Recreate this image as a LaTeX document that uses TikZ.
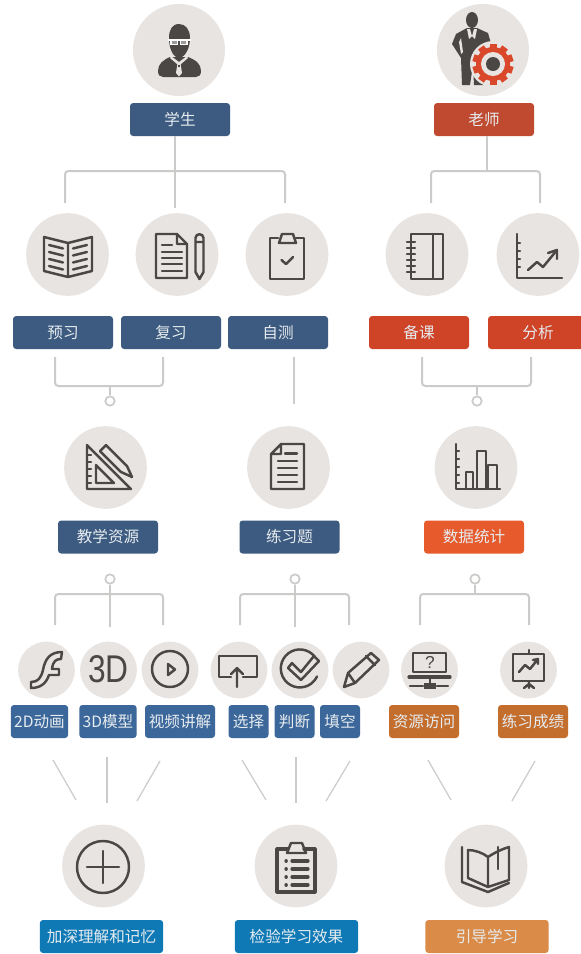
\documentclass[tikz,border=0pt]{standalone}
\usepackage{fontspec}
\setmainfont{Noto Sans CJK SC}
\newfontfamily\latinicon{Liberation Sans}
\usetikzlibrary{calc}
\definecolor{discgray}{HTML}{E8E4E2}
\definecolor{icondark}{HTML}{4B4745}
\definecolor{linegray}{HTML}{CBCBC9}
\definecolor{navy}{HTML}{3D5B80}
\definecolor{brick}{HTML}{BF4A30}
\definecolor{redbox}{HTML}{CF4327}
\definecolor{flame}{HTML}{E65A2C}
\definecolor{midblue}{HTML}{3C679A}
\definecolor{rust}{HTML}{C46E2E}
\definecolor{seablue}{HTML}{0F79B6}
\definecolor{sand}{HTML}{DA8B48}
\definecolor{gearred}{HTML}{D9482B}
\definecolor{boxtext}{HTML}{E6ECF0}
\tikzset{
  disc/.style={circle,fill=discgray,minimum size=#1,inner sep=0pt},
  bx/.style={rectangle,rounded corners=2.4pt,fill=#1,text=boxtext,minimum height=24.75pt,inner sep=0pt,font=\fontsize{11.7}{13}\selectfont},
  conn/.style={draw=linegray,line width=1.5pt,rounded corners=2.5pt},
  thin conn/.style={draw=linegray,line width=0.9pt},
  ring/.style={draw=linegray,line width=1.3pt,fill=white,circle,minimum size=7pt,inner sep=0pt},
  ic/.style={draw=icondark,line width=2.4pt,line join=round,line cap=round},
  ict/.style={draw=icondark,line width=1.85pt,line join=round,line cap=round},
}
\begin{document}
\begin{tikzpicture}[x=0.75pt,y=-0.75pt]
\useasboundingbox (0,0) rectangle (581,954);
\clip (0,0) rectangle (581,954);
\fill[white] (0,0) rectangle (581,954);

% ---- discs
\node[disc=69pt] (dStu) at (179,50) {};
\node[disc=69pt] (dTea) at (483,50) {};
\foreach \n/\x in {dA/67.5,dB/177,dC/287,dD/427,dE/538}{\node[disc=62pt] (\n) at (\x,254.5) {};}
\foreach \n/\x in {dF/105.5,dG/288.5,dH/476}{\node[disc=62pt] (\n) at (\x,467.5) {};}
\foreach \n/\x in {dI/46.5,dJ/108.5,dK/170,dL/239,dM/300,dN/361,dO/429.5,dP/528.5}{\node[disc=42.5pt] (\n) at (\x,670) {};}
\foreach \n/\x in {dQ/103.5,dR/296,dS/486}{\node[disc=62pt] (\n) at (\x,866) {};}

% ---- boxes
\node[bx=navy,minimum width=75pt] (stu) at (180,119.5) {学生};
\node[bx=brick,minimum width=75pt] (tea) at (484,119.5) {老师};
\node[bx=navy,minimum width=75pt] (yuxi) at (63,332.5) {预习};
\node[bx=navy,minimum width=75pt] (fuxi) at (171,332.5) {复习};
\node[bx=navy,minimum width=75pt] (zice) at (278,332.5) {自测};
\node[bx=redbox,minimum width=75pt] (beike) at (419,332.5) {备课};
\node[bx=redbox,minimum width=75pt] (fenxi) at (538,332.5) {分析};
\node[bx=navy,minimum width=75pt] (res) at (108,537) {教学资源};
\node[bx=navy,minimum width=75pt] (lxt) at (289.5,537) {练习题};
\node[bx=flame,minimum width=75pt] (stat) at (474,537) {数据统计};
\node[bx=midblue,minimum width=43pt] (b2d) at (39.5,721.5) {2D动画};
\node[bx=midblue,minimum width=43pt] (b3d) at (108,721.5) {3D模型};
\node[bx=midblue,minimum width=52.5pt] (bvid) at (180,721.5) {视频讲解};
\node[bx=midblue,minimum width=30pt] (bsel) at (248.5,721.5) {选择};
\node[bx=midblue,minimum width=30pt] (bjud) at (294.5,721.5) {判断};
\node[bx=midblue,minimum width=30pt] (bfil) at (340,721.5) {填空};
\node[bx=rust,minimum width=52.5pt] (bacc) at (424,721.5) {资源访问};
\node[bx=rust,minimum width=52.5pt] (bsco) at (533,721.5) {练习成绩};
\node[bx=seablue,minimum width=92.5pt] (bdeep) at (101.5,936.5) {加深理解和记忆};
\node[bx=seablue,minimum width=92.5pt] (bchk) at (296.5,936.5) {检验学习效果};
\node[bx=sand,minimum width=92.5pt] (bgui) at (487,936.5) {引导学习};

% ---- connectors
\coordinate (s1) at (65,203); \coordinate (s2) at (175,208); \coordinate (s3) at (285,203);
\coordinate (sj) at (175,171);
\draw[conn] (stu.south -| sj) -- (s2);
\draw[conn] (s1) -- (s1 |- sj) -- (s3 |- sj) -- (s3);
\coordinate (t1) at (431,203); \coordinate (t2) at (540,203); \coordinate (tj) at (486.5,171);
\draw[conn] (tea.south -| tj) -- (tj);
\draw[conn] (t1) -- (t1 |- tj) -- (t2 |- tj) -- (t2);

\node[ring] (r1) at (110,401) {};
\node[ring] (r2) at (477,401) {};
\node[ring] (r3) at (110,579) {};
\node[ring] (r4) at (295,579) {};
\node[ring] (r5) at (475,579) {};
\coordinate (a1) at (55,357); \coordinate (a2) at (163,357); \coordinate (aj) at (110,386);
\draw[conn] (a1) -- (a1 |- aj) -- (a2 |- aj) -- (a2);
\draw[conn] (r1) -- (aj);
\coordinate (c1) at (422,357); \coordinate (c2) at (531,357); \coordinate (cj) at (477,386);
\draw[conn] (c1) -- (c1 |- cj) -- (c2 |- cj) -- (c2);
\draw[conn] (r2) -- (cj);
\coordinate (z1) at (294,357); \coordinate (z2) at (294,404);
\draw[thin conn] (z1) -- (z2);

\coordinate (e1) at (55,625); \coordinate (e2) at (110,627); \coordinate (e3) at (163,625);
\draw[conn] (e1) -- (e1 |- 0,594) -- (e3 |- 0,594) -- (e3);
\draw[conn] (r3) -- (e2);
\coordinate (f1) at (240,625); \coordinate (f2) at (295,627); \coordinate (f3) at (349,625);
\draw[conn] (f1) -- (f1 |- 0,594) -- (f3 |- 0,594) -- (f3);
\draw[conn] (r4) -- (f2);
\coordinate (g1) at (420,625); \coordinate (g3) at (529,625); \coordinate (g2) at (475,594);
\draw[conn] (g1) -- (g1 |- g2) -- (g3 |- g2) -- (g3);
\draw[conn] (r5) -- (g2);

\foreach \a/\b/\c/\d in {53/760/76/800,107/757/107/803,160/761/137/801,242/760/266/800,296/757/296/803,350/761/326/801,428/760/451/800,535/761/512/801}{
  \draw[thin conn] (\a,\b) -- (\c,\d);}

% ---- student icon
\fill[icondark] (179,24) .. controls (186,24) and (190,30) .. (190,38) .. controls (190,47) and (186,57) .. (179,58) .. controls (172,57) and (169,47) .. (169,38) .. controls (169,30) and (172,24) .. (179,24) -- cycle;
\fill[icondark] (170,57) -- (188,57) .. controls (196,60) and (201,64) .. (201,71) .. controls (201,75) and (199,77) .. (196,77) -- (163,77) .. controls (160,77) and (158,75) .. (158,71) .. controls (158,64) and (163,60) .. (170,57) -- cycle;
\fill[discgray] (171,56) -- (179,62) -- (187,56) -- (188,58) -- (181,64) -- (177,64) -- (170,58) -- cycle;
\fill[discgray] (177.5,63) -- (180.5,63) -- (182,73) -- (179,76.5) -- (176,73) -- cycle;
\fill[icondark] (178,65) rectangle (180,67);
\draw[white,line width=0.9pt,fill=icondark!55] (171,40) rectangle (177.5,44.5);
\draw[white,line width=0.9pt,fill=icondark!55] (180.5,40) rectangle (187,44.5);
\draw[white,line width=0.9pt] (168,40) -- (191,40);

% ---- teacher icon
\fill[icondark] (472,20) ellipse [x radius=6,y radius=8];
\fill[icondark] (467,28) -- (477,28) -- (488,33) -- (492,47) -- (485,56) -- (484,85) -- (474,85) -- (473,65) -- (470,85) -- (462,85) -- (461,58) -- (452,44) -- (456,34) -- cycle;
\fill[discgray] (467,29) -- (470,29) -- (472,36) -- (469,39) -- cycle;
\fill[discgray] (474,29) -- (477,29) -- (475,39) -- (472,36) -- cycle;
\fill[discgray] (459,42) -- (461,38) -- (463,52) -- (461,54) -- cycle;
\fill[discgray] (493,64) circle [radius=23];
\foreach \a in {0,36,...,324}{\fill[gearred,rotate around={\a:(493,64)}] (489.5,43.5) rectangle (496.5,50);}
\fill[gearred] (493,64) circle [radius=17];
\fill[discgray] (493,64) circle [radius=12];
\fill[icondark] (493,64) circle [radius=7];

% ---- open book
\draw[ict] (68,243) -- (44,237) -- (44,271) -- (68,277) -- (92,271) -- (92,237) -- cycle (68,243) -- (68,277);
\foreach \d in {0,7,14,21}{\draw[ict] (49,245+\d) -- (63,248.5+\d) (87,245+\d) -- (73,248.5+\d);}
% ---- document + pen
\draw[ict] (156,234) -- (177,234) -- (187,244) -- (187,278) -- (156,278) -- cycle (177,234) -- (177,244) -- (187,244);
\draw[ict] (162,245) -- (172,245);
\foreach \y in {252,258,264,271}{\draw[ict] (162,\y) -- (182,\y);}
\draw[ict] (195.5,238) .. controls (195.5,233) and (203.5,233) .. (203.5,238) -- (203.5,272) -- (199.5,279) -- (195.5,272) -- cycle (195.5,242) -- (203.5,242);
% ---- clipboard
\draw[ict] (278,238) -- (270,238) -- (270,279) -- (304,279) -- (304,238) -- (296,238);
\draw[ict] (279,243) -- (282,234) -- (293,234) -- (296,243) -- cycle;
\draw[ict] (281.5,260) -- (286,264) -- (293,257);
% ---- notebook
\draw[ict] (411,234) rectangle (443,279) (433,234) -- (433,279);
\foreach \y in {242,248,254,260,266,272}{\draw[ict] (407,\y) -- (415,\y);}
% ---- growth chart
\draw[ict] (517,234) -- (517,278) -- (562,278);
\foreach \y in {243,251,259,267}{\draw[ict] (517,\y) -- (520,\y);}
\draw[ict] (528,270) -- (537,262) -- (543,267) -- (557,250);
\draw[ict] (548,253) -- (557,250) -- (557,259);

% ---- set square + pencil
\draw[ict] (87,445) -- (87,489) -- (131,489) -- cycle;
\draw[ict] (96,465) -- (96,483) -- (114,483) -- cycle;
\foreach \y in {455,462,469,476,483}{\draw[ict] (87,\y) -- (91,\y);}
\draw[ict] (100,451) -- (106,445) -- (127,466) -- (132,477) -- (121,472) -- cycle;
% ---- page
\draw[ict] (281,444) -- (304,444) -- (304,489) -- (271,489) -- (271,454) -- cycle (281,444) -- (281,454) -- (271,454);
\draw[ict] (285,453.5) -- (297,453.5);
\foreach \y in {461,468,475,482}{\draw[ict] (278,\y) -- (297,\y);}
% ---- bar chart
\draw[ict] (456,444) -- (456,489) -- (500,489);
\foreach \y in {451,459,467,475,483}{\draw[ict] (456,\y) -- (459,\y);}
\draw[ict] (466,489) -- (466,472) -- (473,472) -- (473,489);
\draw[ict] (477,489) -- (477,451) -- (486,451) -- (486,489);
\draw[ict] (488,489) -- (488,465) -- (497,465) -- (497,489);

% ---- flash
\draw[ict] (62,652) -- (61,659) .. controls (56,659) and (53,661) .. (52,669) -- (59,669) -- (59,675) -- (49,675) .. controls (46,684) and (40,688) .. (31,688) -- (31,682) .. controls (38,682) and (41,678) .. (43,670) .. controls (45,659) and (50,652) .. (62,652) -- cycle;
% ---- 3D
\node[text=icondark,inner sep=0pt,xscale=0.82,font=\latinicon\fontsize{29}{30}\selectfont] (td) at (108.5,669) {3D};
% ---- play
\draw[ict] (170,669) circle [radius=18];
\draw[ict] (168,664) -- (175,669.5) -- (168,675) -- cycle;
% ---- upload
\draw[ict] (231,677) -- (219,677) -- (219,656) -- (257,656) -- (257,677) -- (243,677);
\draw[ict] (237,687) -- (237,668) (231,674) -- (237,668) -- (243,674);
% ---- check circle
\draw[ict] (315,657) arc [start angle=-37,end angle=-335,radius=19];
\draw[ict] (288,668) -- (292,663) -- (301,672) -- (314,656) -- (319,661) -- (301,680) -- cycle;
% ---- pencil
\draw[ict] (344,687) -- (348,673) -- (371,653) -- (379,660) -- (355,683) -- cycle (366,656) -- (375,665) (348,673) -- (355,683);
% ---- monitor
\draw[ict] (413,653) rectangle (446,672);
\node[text=icondark,inner sep=0pt,font=\latinicon\fontsize{13}{14}\selectfont] (qm) at (430,662) {?};
\draw[ic] (409,677) -- (450,677);
\draw[ict] (430,677) -- (430,684) (410,686) -- (423,686) (437,686) -- (448,686);
\fill[icondark] (424,683) rectangle (436,689);
% ---- board
\draw[ict] (513,654) rectangle (544,681) (529,650) -- (529,654);
\draw[ict] (519,672) -- (525,665) -- (530,669) -- (538,659) (533,660) -- (538,659) -- (538,664);
\draw[ict] (529,681) -- (529,688) (524,688) -- (529,684) -- (534,688);

% ---- plus
\draw[ict] (103,867) circle [radius=26];
\draw[ict] (87,867) -- (119,867) (103,851) -- (103,883);
% ---- list clipboard
\draw[ic] (288,849) -- (277,849) -- (277,892) -- (315,892) -- (315,849) -- (304,849);
\draw[ict] (287,853) -- (291,843) -- (302,843) -- (306,853) -- cycle;
\foreach \y in {861,869,877,885}{\draw[ic] (286,\y) -- (286.3,\y) (292,\y) -- (308,\y);}
% ---- open book large
\draw[ict] (468,850) .. controls (475,850) and (483,853) .. (488,857) .. controls (494,853) and (502,849) .. (509,847) -- (509,880) -- (488,887) -- (468,878) -- cycle (488,857) -- (488,887);
\draw[ict] (462,847) -- (462,882) -- (488,892) -- (509,883);
\draw[ict] (498,847) -- (498,869);
\end{tikzpicture}
\end{document}
